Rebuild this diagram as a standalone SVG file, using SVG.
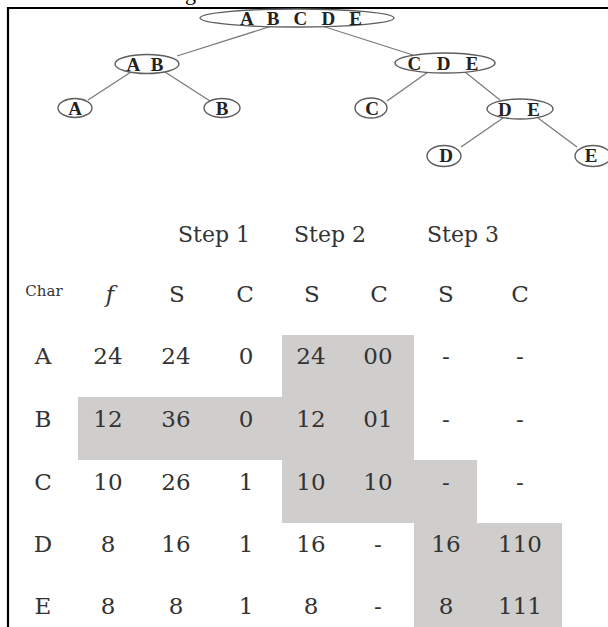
<svg xmlns="http://www.w3.org/2000/svg" width="608" height="627" viewBox="0 0 608 627">
<style>
  .node ellipse { fill: #ffffff; stroke: #5e5e5e; stroke-width: 1.4; }
  .node text { font-family: "Liberation Serif", "Times New Roman", serif; font-weight: bold; font-size: 19px; fill: #222222; text-anchor: middle; }
  .edges line { stroke: #7a7a7a; stroke-width: 1.3; }
  .tbl text { font-family: "DejaVu Serif", "Liberation Serif", serif; font-size: 23px; fill: #333333; text-anchor: middle; }
  .tbl .step { font-size: 22px; }
  .tbl .char { font-size: 15px; }
  .tbl .it { font-style: italic; }
  .cut { font-family: "Liberation Serif", "Times New Roman", serif; font-size: 22px; fill: #000; }
</style>
<rect x="0" y="0" width="608" height="627" fill="#ffffff"/>
<text class="cut" x="185" y="0">g</text>
<g id="frame">
  <line x1="8" y1="8" x2="608" y2="8" stroke="#000" stroke-width="2"/>
  <line x1="8" y1="7" x2="8" y2="627" stroke="#000" stroke-width="2.2"/>
</g>
<g class="edges" id="connectors">
  <line x1="272" y1="26" x2="177" y2="56"/>
  <line x1="322" y1="26" x2="413" y2="55"/>
  <line x1="131" y1="72" x2="88" y2="100"/>
  <line x1="165" y1="72" x2="210" y2="101"/>
  <line x1="428" y1="72" x2="387" y2="101"/>
  <line x1="465" y1="72" x2="500" y2="100"/>
  <line x1="503" y1="118" x2="461" y2="147"/>
  <line x1="538" y1="118" x2="577" y2="147"/>
</g>
<g class="node" id="n-ABCDE">
  <ellipse cx="297" cy="18" rx="97" ry="9"/>
  <text x="301" y="25" textLength="122" lengthAdjust="spacing">A B C D E</text>
</g>
<g class="node" id="n-AB">
  <ellipse cx="147" cy="64" rx="32" ry="9.5"/>
  <text x="145" y="71" textLength="37" lengthAdjust="spacing">A B</text>
</g>
<g class="node" id="n-CDE">
  <ellipse cx="445" cy="63" rx="50" ry="10"/>
  <text x="443" y="70" textLength="71" lengthAdjust="spacing">C D E</text>
</g>
<g class="node" id="n-A">
  <ellipse cx="75" cy="108" rx="17" ry="9.5"/>
  <text x="75" y="115">A</text>
</g>
<g class="node" id="n-B">
  <ellipse cx="222" cy="108" rx="18" ry="9.5"/>
  <text x="222" y="115">B</text>
</g>
<g class="node" id="n-C">
  <ellipse cx="371" cy="108" rx="16" ry="10"/>
  <text x="372" y="115">C</text>
</g>
<g class="node" id="n-DE">
  <ellipse cx="520" cy="109" rx="33" ry="10"/>
  <text x="519" y="116" textLength="42" lengthAdjust="spacing">D E</text>
</g>
<g class="node" id="n-D">
  <ellipse cx="444" cy="156" rx="17" ry="10.5"/>
  <text x="446" y="162">D</text>
</g>
<g class="node" id="n-E">
  <ellipse cx="593" cy="156" rx="18" ry="10.5"/>
  <text x="591" y="162">E</text>
</g>
<g id="shading">
  <path d="M282 335 H414 V460 H477 V523 H562 V627 H414 V523 H282 V460 H78 V397 H282 Z" fill="#d0cdcd"/>
</g>
<g class="tbl" id="table">
  <text class="step" x="214" y="242">Step 1</text>
  <text class="step" x="330" y="242">Step 2</text>
  <text class="step" x="463" y="242">Step 3</text>
  <text class="char" x="44" y="296">Char</text>
  <text class="it" x="110" y="302">f</text>
  <text x="177" y="302">S</text>
  <text x="245" y="302">C</text>
  <text x="312" y="302">S</text>
  <text x="379" y="302">C</text>
  <text x="446" y="302">S</text>
  <text x="520" y="302">C</text>

  <text x="43" y="364">A</text>
  <text x="108" y="364">24</text>
  <text x="176" y="364">24</text>
  <text x="246" y="364">0</text>
  <text x="311" y="364">24</text>
  <text x="378" y="364">00</text>
  <text x="446" y="364">-</text>
  <text x="520" y="364">-</text>

  <text x="43" y="427">B</text>
  <text x="108" y="427">12</text>
  <text x="176" y="427">36</text>
  <text x="246" y="427">0</text>
  <text x="311" y="427">12</text>
  <text x="378" y="427">01</text>
  <text x="446" y="427">-</text>
  <text x="520" y="427">-</text>

  <text x="43" y="490">C</text>
  <text x="108" y="490">10</text>
  <text x="176" y="490">26</text>
  <text x="246" y="490">1</text>
  <text x="311" y="490">10</text>
  <text x="378" y="490">10</text>
  <text x="446" y="490">-</text>
  <text x="520" y="490">-</text>

  <text x="43" y="552">D</text>
  <text x="108" y="552">8</text>
  <text x="176" y="552">16</text>
  <text x="246" y="552">1</text>
  <text x="311" y="552">16</text>
  <text x="378" y="552">-</text>
  <text x="446" y="552">16</text>
  <text x="520" y="552">110</text>

  <text x="43" y="614">E</text>
  <text x="108" y="614">8</text>
  <text x="176" y="614">8</text>
  <text x="246" y="614">1</text>
  <text x="311" y="614">8</text>
  <text x="378" y="614">-</text>
  <text x="446" y="614">8</text>
  <text x="520" y="614">111</text>
</g>
</svg>
